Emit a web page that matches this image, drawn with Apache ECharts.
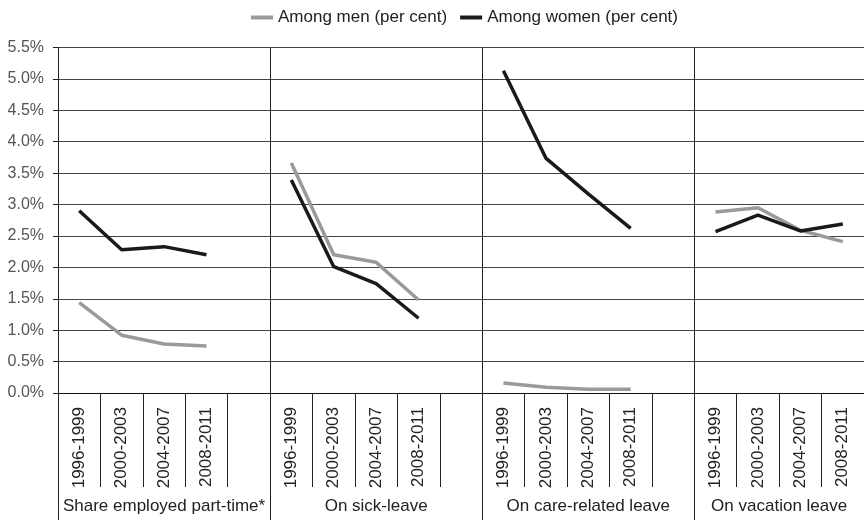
<!DOCTYPE html>
<html>
<head>
<meta charset="utf-8">
<script src="https://cdn.jsdelivr.net/npm/echarts@6/dist/echarts.min.js"></script>
<style>html,body{margin:0;padding:0;background:#fff;}#c{width:864px;height:522px;}</style>
</head>
<body>
<div id="c"></div>
<script>
var periods = ['1996-1999','2000-2003','2004-2007','2008-2011'];
var groups = ['Share employed part-time*','On sick-leave','On care-related leave','On vacation leave'];
var groupSizes = [5, 5, 5, 4];
var yTicks = [0,0.5,1,1.5,2,2.5,3,3.5,4,4.5,5,5.5];
var menValues = [1.44,0.92,0.78,0.75,null, 3.66,2.20,2.08,1.48,null, 0.16,0.09,0.06,0.06,null, 2.88,2.95,2.59,2.41];
var womenValues = [2.90,2.28,2.33,2.20,null, 3.39,2.01,1.74,1.19,null, 5.13,3.74,3.17,2.62,null, 2.57,2.83,2.58,2.69];
var seriesNames = ['Among men (per cent)','Among women (per cent)'];

// build category lists
var categories = [];
groupSizes.forEach(function(n){
  for (var i=0;i<n;i++) categories.push(i < periods.length ? periods[i] : '');
});
var totalSlots = categories.length;
var halfData = [];
for (var h=0; h<=totalSlots*2; h++) halfData.push('');
var boundaries = {};
var labelIdx = {};
var start = 0;
groupSizes.forEach(function(n, gi){
  boundaries[start*2] = true;
  halfData[start*2 + n] = groups[gi];
  labelIdx[start*2 + n] = true;
  start += n;
});
boundaries[start*2] = true;

var font = 'Liberation Sans, Arial, sans-serif';
var chart = echarts.init(document.getElementById('c'));
chart.setOption({
  animation: false,
  legend: {
    top: 4, left: 246,
    icon: 'rect', itemWidth: 22, itemHeight: 4, itemGap: 13,
    textStyle: {fontFamily: font, fontSize: 17, color: '#222'},
    data: seriesNames
  },
  grid: {left: 58, right: -3, top: 47.5, bottom: 129},
  xAxis: [{
    type: 'category', data: categories, boundaryGap: true,
    axisLine: {lineStyle: {color: '#111', width: 1}},
    axisTick: {show: true, interval: 0, length: 94, lineStyle: {color: '#222'}},
    axisLabel: {interval: 0, rotate: 90, margin: 14, fontFamily: font, fontSize: 17, color: '#222'},
    splitLine: {show: false}
  }, {
    type: 'category', data: halfData, boundaryGap: false, position: 'bottom',
    axisLine: {show: false},
    axisTick: {show: true, length: 127, interval: function(i){ return !!boundaries[i]; }, lineStyle: {color: '#222'}},
    axisLabel: {interval: function(i){ return !!labelIdx[i]; }, margin: 105, fontFamily: font, fontSize: 17, color: '#222'},
    splitLine: {show: true, interval: function(i){ return !!boundaries[i] && i>0 && i<totalSlots*2; }, lineStyle: {color: '#222', width: 1}}
  }],
  yAxis: {
    type: 'value', min: yTicks[0], max: yTicks[yTicks.length-1], interval: 0.5,
    axisLine: {show: true, lineStyle: {color: '#222'}},
    axisTick: {show: true, length: 5, lineStyle: {color: '#222'}},
    axisLabel: {margin: 14, fontFamily: font, fontSize: 16, color: '#555', formatter: function(v){ return v.toFixed(1) + '%'; }},
    splitLine: {show: true, lineStyle: {color: '#444', width: 1}}
  },
  series: [{
    name: seriesNames[0], type: 'line', data: menValues, symbol: 'none', connectNulls: false,
    lineStyle: {color: '#9a9a9a', width: 3.5}, itemStyle: {color: '#9a9a9a'}
  }, {
    name: seriesNames[1], type: 'line', data: womenValues, symbol: 'none', connectNulls: false,
    lineStyle: {color: '#1a1a1a', width: 3.5}, itemStyle: {color: '#1a1a1a'}
  }]
});
</script>
</body>
</html>
